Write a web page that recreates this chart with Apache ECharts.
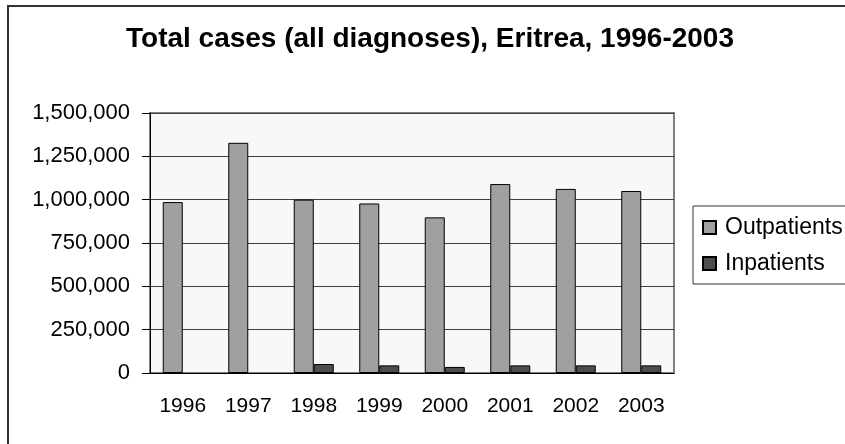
<!DOCTYPE html>
<html>
<head>
<meta charset="utf-8">
<script src="https://cdn.jsdelivr.net/npm/echarts@6/dist/echarts.min.js"></script>
<style>
  html, body { margin: 0; padding: 0; background: #fff; }
  #chart { width: 845px; height: 444px; }
</style>
</head>
<body>
<div id="chart"></div>
<script>
// data
const years = ['1996', '1997', '1998', '1999', '2000', '2001', '2002', '2003'];
const outpatients = [986000, 1328000, 1000000, 978000, 898000, 1090000, 1062000, 1050000];
const inpatients = ['-', '-', 52000, 44000, 35000, 44000, 44000, 44000];
const yTicks = [0, 250000, 500000, 750000, 1000000, 1250000, 1500000];

const font = '"Liberation Sans", Arial, sans-serif';

const chart = echarts.init(document.getElementById('chart'));

chart.setOption({
  animation: false,
  backgroundColor: '#fff',
  graphic: [
    // outer frame (only left and top edges show)
    {
      type: 'rect', z: -10, silent: true,
      shape: { x: 8, y: 6, width: 1000, height: 1000 },
      style: { fill: null, stroke: '#333', lineWidth: 2 }
    },
    {
      type: 'text', silent: true,
      style: {
        text: 'Total cases (all diagnoses), Eritrea, 1996-2003',
        x: 430, y: 39, align: 'center', verticalAlign: 'middle',
        font: 'bold 28px ' + font, fill: '#000'
      }
    }
  ],
  grid: {
    left: 150, right: 171, top: 113, bottom: 71,
    show: true,
    backgroundColor: '#f8f8f8',
    borderColor: '#808080',
    borderWidth: 2
  },
  legend: {
    data: ['Outpatients', 'Inpatients'],
    orient: 'vertical',
    left: 693, top: 206,
    padding: [10, 9, 9, 9],
    itemGap: 13,
    itemWidth: 13, itemHeight: 13,
    icon: 'rect',
    borderColor: '#333', borderWidth: 1,
    backgroundColor: '#fff',
    textStyle: { fontFamily: font, fontSize: 23, color: '#000', padding: [0, 0, 0, 4] }
  },
  xAxis: {
    type: 'category',
    data: years,
    axisLine: { lineStyle: { color: '#000', width: 1 } },
    axisTick: { length: 7, lineStyle: { color: '#000' } },
    axisLabel: { fontFamily: font, fontSize: 21, color: '#000', margin: 23 }
  },
  yAxis: {
    type: 'value',
    min: yTicks[0],
    max: yTicks[yTicks.length - 1],
    interval: 250000,
    axisLine: { show: true, lineStyle: { color: '#000', width: 1 } },
    axisTick: { show: true, length: 8, lineStyle: { color: '#000' } },
    axisLabel: {
      fontFamily: font, fontSize: 22, color: '#000', margin: 20,
      formatter: v => v.toLocaleString('en-US')
    },
    splitLine: { lineStyle: { color: '#404040', width: 1 } }
  },
  series: [
    {
      name: 'Outpatients', type: 'bar', data: outpatients,
      barWidth: 20, barGap: '0%',
      itemStyle: { color: '#a0a0a0', borderColor: '#000', borderWidth: 1 }
    },
    {
      name: 'Inpatients', type: 'bar', data: inpatients,
      barWidth: 20,
      itemStyle: { color: '#4d4d4d', borderColor: '#000', borderWidth: 1 }
    }
  ]
});
</script>
</body>
</html>
